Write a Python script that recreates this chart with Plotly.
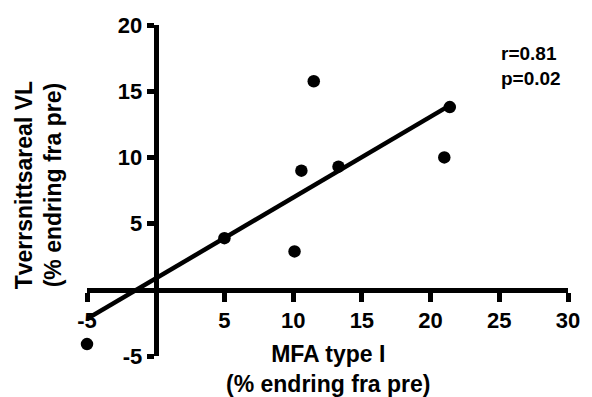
import numpy as np
import plotly.graph_objects as go

# Data
mfa_type1 = [-5.0, 5.0, 10.1, 10.6, 11.5, 13.3, 21.0, 21.4]
tverrsnitt_vl = [-4.1, 3.9, 2.9, 9.0, 15.75, 9.3, 10.0, 13.8]
x_ticks = [-5, 5, 10, 15, 20, 25, 30]
y_ticks = [-5, 5, 10, 15, 20]
stats_text = "r=0.81<br>p=0.02"

# Linear regression
slope, intercept = np.polyfit(mfa_type1, tverrsnitt_vl, 1)
xfit = np.array([min(mfa_type1), max(mfa_type1)])
yfit = slope * xfit + intercept

FONT = "Liberation Sans, Arial, Helvetica, sans-serif"

fig = go.Figure()
fig.add_trace(go.Scatter(x=xfit, y=yfit, mode="lines",
                         line=dict(color="black", width=4.5),
                         hoverinfo="skip", cliponaxis=False))
fig.add_trace(go.Scatter(x=mfa_type1, y=tverrsnitt_vl, mode="markers",
                         marker=dict(color="black", size=12.5),
                         cliponaxis=False))

fig.update_layout(
    width=592, height=397,
    margin=dict(l=87, r=15, t=25, b=41),
    plot_bgcolor="white", paper_bgcolor="white",
    showlegend=False,
    font=dict(family=FONT, color="black", size=22, weight="bold"),
    xaxis=dict(range=[-5, 30], anchor="free", position=5 / 25,
               showgrid=False, zeroline=False,
               showline=True, linecolor="black", linewidth=5,
               ticks="outside", ticklen=9, tickwidth=5, tickcolor="black",
               tickvals=x_ticks, ticktext=[str(v) for v in x_ticks],
               tickfont=dict(family=FONT, size=22, color="black", weight="bold")),
    yaxis=dict(range=[-5, 20], anchor="free", position=5 / 35,
               showgrid=False, zeroline=False,
               showline=True, linecolor="black", linewidth=5,
               ticks="outside", ticklen=7, tickwidth=5, tickcolor="black",
               tickvals=y_ticks, ticktext=[str(v) for v in y_ticks],
               tickfont=dict(family=FONT, size=22, color="black", weight="bold")),
    annotations=[
        dict(text="MFA type I<br>(% endring fra pre)", xref="paper", yref="paper",
             x=0.5, y=-0.038, xanchor="center", yanchor="middle", showarrow=False,
             font=dict(family=FONT, size=23, color="black", weight="bold")),
        dict(text="Tverrsnittsareal VL<br>(% endring fra pre)", xref="paper", yref="paper",
             x=-0.101, y=0.517, xanchor="center", yanchor="middle", showarrow=False,
             textangle=-90,
             font=dict(family=FONT, size=23, color="black", weight="bold")),
        dict(text=stats_text, xref="paper", yref="paper",
             x=0.857, y=0.875, xanchor="left", yanchor="middle", align="left",
             showarrow=False,
             font=dict(family=FONT, size=19, color="black", weight="bold")),
    ],
)

fig.write_html("out.html")
